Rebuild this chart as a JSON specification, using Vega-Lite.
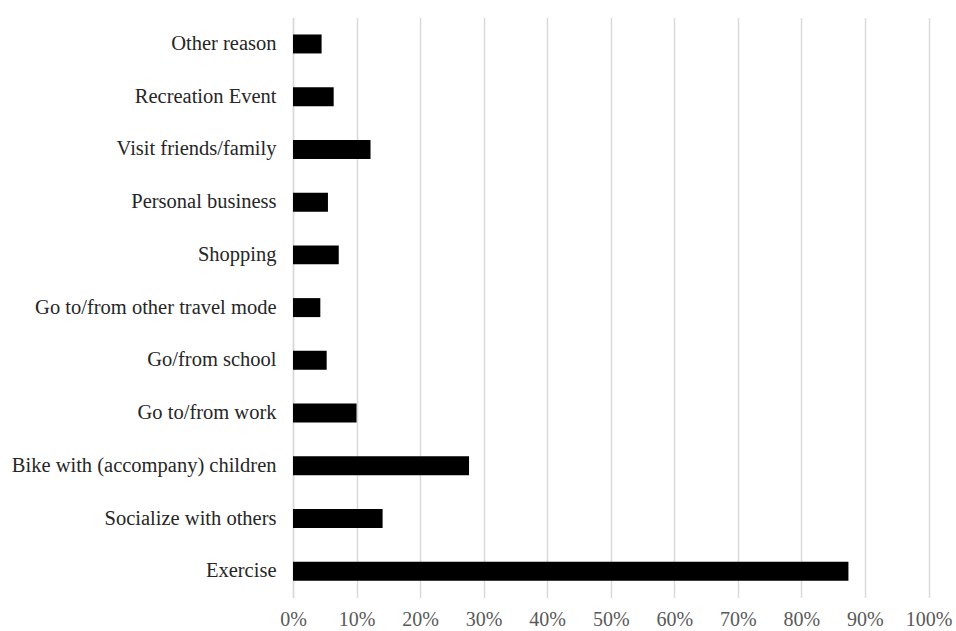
{
  "$schema": "https://vega.github.io/schema/vega-lite/v6.json",
  "autosize": {"type": "none"},
  "padding": {"left": 293, "top": 17.6, "right": 27.5, "bottom": 33.4},
  "width": 635.5,
  "height": 580,
  "background": "white",
  "config": {"view": {"stroke": null}, "font": "Liberation Serif"},
  "data": {"values": [
    {"reason": "Other reason", "share": 0.045},
    {"reason": "Recreation Event", "share": 0.064},
    {"reason": "Visit friends/family", "share": 0.122},
    {"reason": "Personal business", "share": 0.055},
    {"reason": "Shopping", "share": 0.072},
    {"reason": "Go to/from other travel mode", "share": 0.043},
    {"reason": "Go/from school", "share": 0.053},
    {"reason": "Go to/from work", "share": 0.100},
    {"reason": "Bike with (accompany) children", "share": 0.277},
    {"reason": "Socialize with others", "share": 0.141},
    {"reason": "Exercise", "share": 0.874}
  ]},
  "mark": {"type": "bar", "color": "#000000"},
  "encoding": {
    "y": {
      "field": "reason", "type": "nominal", "sort": null,
      "scale": {"paddingInner": 0.64, "paddingOuter": 0.32},
      "axis": {"title": null, "ticks": false, "domain": true, "domainColor": "#d9d9d9", "domainWidth": 1.5,
               "labelFont": "Liberation Serif", "labelFontSize": 20.5, "labelColor": "#262626", "labelPadding": 17, "labelLimit": 400}
    },
    "x": {
      "field": "share", "type": "quantitative",
      "scale": {"domain": [0, 1], "nice": false},
      "axis": {"title": null, "format": ".0%", "values": [0,0.1,0.2,0.3,0.4,0.5,0.6,0.7,0.8,0.9,1.0],
               "grid": true, "gridColor": "#d9d9d9", "gridWidth": 1.5, "domain": false, "ticks": false, "labelFlush": false,
               "labelFont": "Liberation Serif", "labelFontSize": 20, "labelColor": "#595959", "labelPadding": 12}
    }
  }
}
